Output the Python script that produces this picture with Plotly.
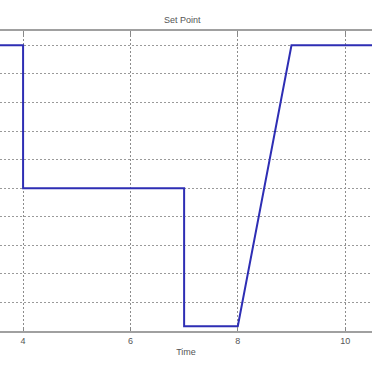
import plotly.graph_objects as go

# Set point profile
time = [3.5, 4.0, 4.0, 7.0, 7.0, 8.0, 9.0, 10.6]
set_point = [10.0, 10.0, 5.0, 5.0, 0.17, 0.17, 10.0, 10.0]

x_ticks = [4, 6, 8, 10]

fig = go.Figure()
fig.add_trace(go.Scatter(
    x=time, y=set_point, mode="lines",
    line=dict(color="#2e2eb4", width=2),
    showlegend=False, hoverinfo="skip",
))

font = dict(family="Liberation Sans, Arial, sans-serif", size=9, color="#333333")

fig.update_layout(
    width=372, height=372,
    margin=dict(l=0, r=0, t=31, b=41, pad=0),
    paper_bgcolor="white", plot_bgcolor="white",
    font=font,
    title=dict(text="Set Point", x=0.49, xanchor="center", y=1 - 20 / 372, yanchor="middle",
               font=dict(size=9, color="#555555")),
    xaxis=dict(
        range=[3.57, 10.5], tickvals=x_ticks, ticktext=[str(v) for v in x_ticks],
        showgrid=True, gridcolor="#8c8c8c", griddash="2px,2px", gridwidth=1,
        showline=True, linecolor="#a0a0a0", linewidth=2, mirror="allticks",
        ticks="inside", ticklen=4, tickcolor="#888888",
        zeroline=False,
        title=dict(text="Time", font=dict(size=9, color="#555555"), standoff=4),
        tickfont=dict(size=9, color="#555555"),
    ),
    yaxis=dict(
        range=[0, 10.5], dtick=1, tick0=0,
        showgrid=True, gridcolor="#9a9a9a", griddash="2px,2px", gridwidth=1,
        showline=False, zeroline=False, showticklabels=False, ticks="",
    ),
)

fig.write_html("out.html")
